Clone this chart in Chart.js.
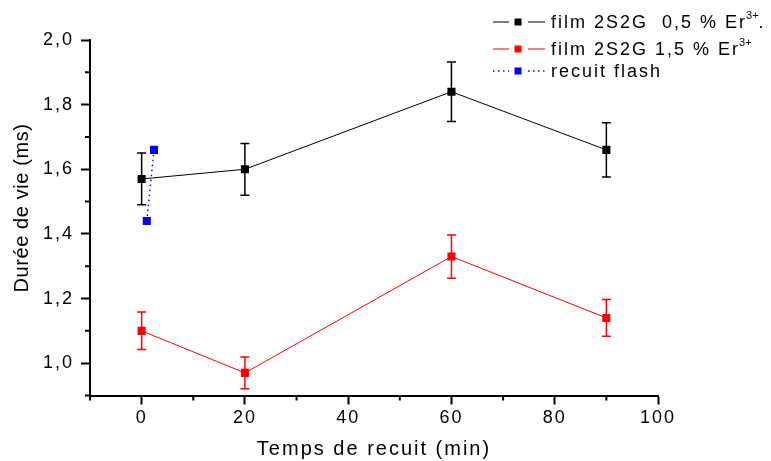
<!DOCTYPE html>
<html>
<head>
<meta charset="utf-8">
<script src="https://cdn.jsdelivr.net/npm/chart.js@4.4.1/dist/chart.umd.min.js"></script>
<style>
  body { margin:0; background:#fff; }
  #box { width:771px; height:461px; position:relative; }
</style>
</head>
<body>
<div id="box"><canvas id="grafico"></canvas></div>
<script>

// temps de recuit (min) et durées de vie (ms)
const temps = [0, 20, 60, 90];

const duree05 = [1.57, 1.60, 1.84, 1.66];
const erreur05 = [0.08, 0.08, 0.092, 0.084];

const duree15 = [1.10, 0.97, 1.33, 1.14];
const erreur15 = [0.058, 0.049, 0.067, 0.057];

const tempsFlash = [1, 2.4];
const dureeFlash = [1.44, 1.66];

const legendes = [
    ["film 2S2G  0,5 % Er", "3+", "."],
    ["film 2S2G 1,5 % Er", "3+", ""],
    ["recuit flash", "", ""]
];

const titreY = "Durée de vie (ms)";

const police = "'Liberation Sans', Arial, sans-serif";

function points(xs, ys){
    return xs.map((x, i) => ({ x: x, y: ys[i] }));
}

// barres d'erreur
const barresErreur = {
    id: "barresErreur",
    beforeDatasetsDraw(chart){
        const ctx = chart.ctx;
        const sx = chart.scales.x;
        const sy = chart.scales.y;
        const series = [
            { ys: duree05, err: erreur05, color: "#000000" },
            { ys: duree15, err: erreur15, color: "#ff0000" }
        ];
        ctx.save();
        series.forEach(s => {
            ctx.strokeStyle = s.color;
            ctx.lineWidth = 1.5;
            temps.forEach((t, i) => {
                const px = sx.getPixelForValue(t);
                const haut = sy.getPixelForValue(s.ys[i] + s.err[i]);
                const bas = sy.getPixelForValue(s.ys[i] - s.err[i]);
                ctx.beginPath();
                ctx.moveTo(px, haut);
                ctx.lineTo(px, bas);
                ctx.moveTo(px - 4.5, haut);
                ctx.lineTo(px + 4.5, haut);
                ctx.moveTo(px - 4.5, bas);
                ctx.lineTo(px + 4.5, bas);
                ctx.stroke();
            });
        });
        ctx.restore();
    }
};

// petites graduations, titre Y + légende
const decor = {
    id: "decor",
    beforeLayout(chart){
        chart.ctx.letterSpacing = "2px";
    },
    beforeDraw(chart){
        chart.ctx.letterSpacing = "2px";
    },
    afterDraw(chart){
        const ctx = chart.ctx;
        const sx = chart.scales.x;
        const sy = chart.scales.y;
        const area = chart.chartArea;

        ctx.save();
        ctx.strokeStyle = "#000";
        ctx.lineWidth = 2;
        ctx.beginPath();
        sy.ticks.forEach(t => {
            if (Math.round(t.value * 10) % 2 !== 0){
                const py = sy.getPixelForValue(t.value);
                ctx.moveTo(area.left - 5, py);
                ctx.lineTo(area.left, py);
            }
        });
        sx.ticks.forEach(t => {
            if (Math.round(t.value) % 20 !== 0){
                const px = sx.getPixelForValue(t.value);
                ctx.moveTo(px, area.bottom);
                ctx.lineTo(px, area.bottom + 5);
            }
        });
        ctx.stroke();

        // titre axe Y
        ctx.save();
        ctx.translate(27.5, 208);
        ctx.rotate(-Math.PI / 2);
        ctx.fillStyle = "#000";
        ctx.font = "20px " + police;
        ctx.letterSpacing = "0.6px";
        ctx.textAlign = "center";
        ctx.textBaseline = "alphabetic";
        ctx.fillText(titreY, 0, 0);
        ctx.restore();

        // légende
        const lignes = [22, 49, 71];
        chart.data.datasets.forEach((ds, i) => {
            const y = lignes[i];
            ctx.strokeStyle = ds.borderColor;
            ctx.lineWidth = ds.borderWidth;
            ctx.setLineDash(ds.borderDash || []);
            ctx.beginPath();
            ctx.moveTo(493, y);
            ctx.lineTo(509, y);
            ctx.moveTo(528, y);
            ctx.lineTo(545, y);
            ctx.stroke();
            ctx.setLineDash([]);
            ctx.fillStyle = ds.pointBackgroundColor;
            ctx.fillRect(514.5, y - 3.5, 7, 7);

            const [texte, sup, fin] = legendes[i];
            ctx.fillStyle = "#000";
            ctx.textBaseline = "middle";
            ctx.textAlign = "left";
            ctx.letterSpacing = "2px";
            ctx.font = "18px " + police;
            ctx.fillText(texte, 551, y + 1);
            let x = 551 + ctx.measureText(texte).width;
            if (sup){
                ctx.font = "11px " + police;
                ctx.letterSpacing = "0px";
                ctx.fillText(sup, x - 1, y - 6);
                x += ctx.measureText(sup).width - 1;
                ctx.font = "18px " + police;
                ctx.letterSpacing = "2px";
                ctx.fillText(fin, x, y + 1);
            }
        });
        ctx.restore();
    }
};

new Chart(
    document.getElementById("grafico"),
    {
        type: "line",
        data: {
            datasets: [
                {
                    label: "film 2S2G 0,5 % Er3+.",
                    data: points(temps, duree05),
                    borderColor: "#000000",
                    borderWidth: 1,
                    pointStyle: "rect",
                    pointRadius: 5.7,
                    pointBackgroundColor: "#000000",
                    pointBorderWidth: 0
                },
                {
                    label: "film 2S2G 1,5 % Er3+",
                    data: points(temps, duree15),
                    borderColor: "#ff0000",
                    borderWidth: 1,
                    pointStyle: "rect",
                    pointRadius: 5.7,
                    pointBackgroundColor: "#ff0000",
                    pointBorderWidth: 0
                },
                {
                    label: "recuit flash",
                    data: points(tempsFlash, dureeFlash),
                    borderColor: "#0000ff",
                    borderWidth: 1.5,
                    borderDash: [1.5, 3.5],
                    pointStyle: "rect",
                    pointRadius: 5.7,
                    pointBackgroundColor: "#0000ff",
                    pointBorderWidth: 0
                }
            ]
        },
        options: {
            responsive: true,
            maintainAspectRatio: false,
            animation: false,
            layout: {
                padding: { top: 40, right: 113, bottom: 0, left: 0 }
            },
            plugins: {
                legend: { display: false },
                tooltip: { enabled: false }
            },
            scales: {
                x: {
                    type: "linear",
                    min: -10,
                    max: 100,
                    afterFit: s => { s.height = 65.5; },
                    border: { display: true, color: "#000", width: 2 },
                    grid: {
                        drawOnChartArea: false,
                        drawTicks: true,
                        tickLength: 9,
                        tickWidth: 2,
                        tickColor: c => Math.round(c.tick.value) % 20 === 0 ? "#000" : "rgba(0,0,0,0)"
                    },
                    ticks: {
                        stepSize: 10,
                        autoSkip: false,
                        maxRotation: 0,
                        padding: 3,
                        color: "#000",
                        font: { family: police, size: 18 },
                        callback: v => Math.round(v) % 20 === 0 ? String(v) : ""
                    },
                    title: {
                        display: true,
                        text: "Temps de recuit (min)",
                        color: "#000",
                        font: { family: police, size: 20 },
                        padding: { top: 0, bottom: 0 }
                    }
                },
                y: {
                    type: "linear",
                    min: 0.9,
                    max: 2.0,
                    afterFit: s => { s.width = 90; },
                    border: { display: true, color: "#000", width: 2 },
                    grid: {
                        drawOnChartArea: false,
                        drawTicks: true,
                        tickLength: 9,
                        tickWidth: 2,
                        tickColor: c => Math.round(c.tick.value * 10) % 2 === 0 ? "#000" : "rgba(0,0,0,0)"
                    },
                    ticks: {
                        stepSize: 0.1,
                        autoSkip: false,
                        padding: 7,
                        color: "#000",
                        font: { family: police, size: 18 },
                        callback: v => Math.round(v * 10) % 2 === 0 ? v.toFixed(1).replace(".", ",") : ""
                    },
                    title: { display: false }
                }
            }
        },
        plugins: [barresErreur, decor]
    }
);

</script>
</body>
</html>
